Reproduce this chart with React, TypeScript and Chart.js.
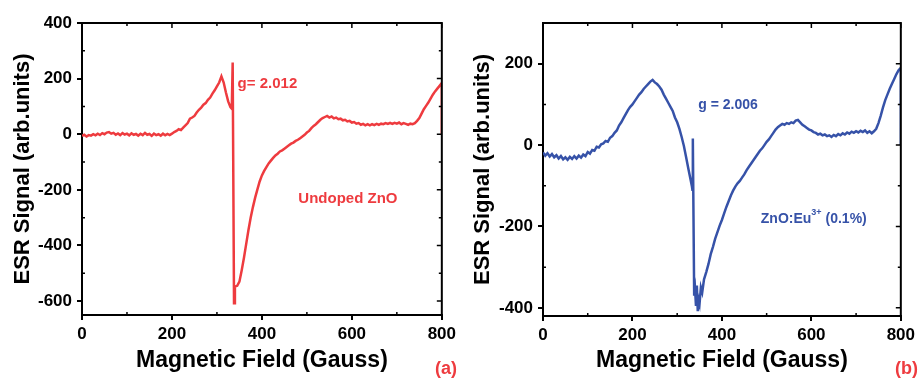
import React, { useEffect, useRef } from 'react';
import { Chart, registerables } from 'chart.js';

Chart.register(...registerables);

// ---------- data (Magnetic field in Gauss, ESR signal in arb. units) ----------
const fieldA = [
  0, 5, 10, 15, 20, 25, 30, 35, 40, 45,
  50, 55, 60, 65, 70, 75, 80, 85, 90, 95,
  100, 105, 110, 115, 120, 125, 130, 135, 140, 145,
  150, 155, 160, 165, 170, 175, 180, 185, 190, 195,
  200, 205, 210, 215, 220, 225, 230, 235, 240, 245,
  250, 255, 260, 265, 270, 275, 280, 285, 290, 295,
  300, 305, 310, 315, 320, 325, 330, 333, 335, 338,
  340, 345, 350, 355, 360, 365, 370, 375, 380, 385,
  390, 395, 400, 405, 410, 415, 420, 425, 430, 435,
  440, 445, 450, 455, 460, 465, 470, 475, 480, 485,
  490, 495, 500, 505, 510, 515, 520, 525, 530, 535,
  540, 545, 550, 555, 560, 565, 570, 575, 580, 585,
  590, 595, 600, 605, 610, 615, 620, 625, 630, 635,
  640, 645, 650, 655, 660, 665, 670, 675, 680, 685,
  690, 695, 700, 705, 710, 715, 720, 725, 730, 735,
  740, 745, 750, 755, 760, 765, 770, 775, 780, 785,
  790, 795, 800, 800,
];
const signalA = [
  -6, -2, -8, -3, -5, 0, -4, 2, -3, 4,
  0, 6, 8, 2, 5, -2, 3, -3, 4, -1,
  2, -4, 3, -2, 1, -5, 2, -3, 5, -2,
  1, -6, 2, -3, 0, -5, 2, -4, 1, -3,
  2, 8, 12, 18, 15, 24, 32, 40, 56, 60,
  66, 78, 88, 96, 106, 112, 124, 132, 146, 158,
  172, 186, 208, 186, 150, 118, 98, 92, 258, -608,
  -548, -545, -530, -490, -445, -395, -345, -300, -262, -228,
  -198, -170, -148, -132, -118, -105, -95, -85, -76, -70,
  -62, -58, -52, -46, -40, -34, -30, -24, -20, -14,
  -8, -2, 6, 12, 22, 30, 36, 44, 52, 58,
  62, 66, 60, 64, 57, 60, 54, 56, 50, 52,
  46, 48, 42, 44, 38, 40, 34, 37, 32, 36,
  32, 36, 33, 37, 34, 38, 36, 40, 37, 41,
  37, 41, 38, 42, 36, 40, 37, 34, 38, 36,
  40, 48, 58, 74, 90, 102, 114, 128, 142, 154,
  164, 174, 184, 0,
];

const fieldB = [
  0, 5, 10, 15, 20, 25, 30, 35, 40, 45,
  50, 55, 60, 65, 70, 75, 80, 85, 90, 95,
  100, 105, 110, 115, 120, 125, 130, 135, 140, 145,
  150, 155, 160, 165, 170, 175, 180, 185, 190, 195,
  200, 205, 210, 215, 220, 225, 230, 235, 240, 245,
  250, 255, 260, 265, 270, 275, 280, 285, 290, 295,
  300, 305, 310, 315, 320, 325, 330, 333, 334, 335,
  338, 340, 342, 344, 346, 348, 350, 353, 356, 360,
  365, 370, 375, 380, 385, 390, 395, 400, 405, 410,
  415, 420, 425, 430, 435, 440, 445, 450, 455, 460,
  465, 470, 475, 480, 485, 490, 495, 500, 505, 510,
  515, 520, 525, 530, 535, 540, 545, 550, 555, 560,
  565, 570, 575, 580, 585, 590, 595, 600, 605, 610,
  615, 620, 625, 630, 635, 640, 645, 650, 655, 660,
  665, 670, 675, 680, 685, 690, 695, 700, 705, 710,
  715, 720, 725, 730, 735, 740, 745, 750, 755, 760,
  765, 770, 775, 780, 785, 790, 795, 800, 800,
];
const signalB = [
  -18, -26, -20, -28, -22, -30, -25, -33, -27, -35,
  -30, -36, -29, -34, -27, -33, -26, -31, -23, -27,
  -17, -21, -12, -14, -4, -6, 2, 4, 10, 8,
  18, 22, 30, 36, 48, 56, 66, 76, 86, 94,
  100, 108, 116, 124, 130, 138, 144, 150, 156, 160,
  154, 150, 144, 136, 124, 114, 104, 94, 84, 68,
  56, 40, 20, -2, -30, -58, -85, -102, -110, 16,
  -370, -355, -395, -345, -408, -380, -390, -350, -362, -330,
  -312, -292, -268, -250, -230, -214, -198, -184, -168, -152,
  -138, -124, -112, -102, -94, -88, -80, -72, -62, -54,
  -46, -38, -30, -22, -14, -8, 0, 8, 14, 22,
  30, 38, 44, 48, 52, 50, 54, 52, 56, 54,
  60, 62, 56, 50, 46, 42, 38, 36, 32, 30,
  26, 28, 24, 26, 22, 24, 20, 25, 22, 27,
  24, 29, 26, 31, 28, 33, 30, 34, 31, 35,
  32, 36, 30, 34, 29, 34, 40, 54, 72, 92,
  110, 124, 138, 150, 162, 174, 184, 190, 0,
];

const xTicks = [0, 200, 400, 600, 800];
const xMinorTicks = [100, 300, 500, 700];
const yTicksA = [-600, -400, -200, 0, 200, 400];
const yMinorA = [-500, -300, -100, 100, 300];
const yTicksB = [-400, -200, 0, 200];
const yMinorB = [-300, -100, 100];

const xTitle = 'Magnetic Field (Gauss)';
const yTitle = 'ESR Signal (arb.units)';

const RED = '#ee3b3f';
const BLUE = '#3652a8';
const FONT = "'Liberation Sans', Arial, sans-serif";

type Part = { t: string; size: number; dy?: number };
type Note = { x: number; y: number; parts: Part[] };

const notesA: Note[] = [
  { x: 346, y: 182, parts: [{ t: 'g= 2.012', size: 15 }] },
  { x: 481, y: -231, parts: [{ t: 'Undoped ZnO', size: 15 }] },
];
const notesB: Note[] = [
  { x: 347, y: 97, parts: [{ t: 'g = 2.006', size: 14 }] },
  {
    x: 487,
    y: -181,
    parts: [
      { t: 'ZnO:Eu', size: 14 },
      { t: '3+', size: 9, dy: -6 },
      { t: ' (0.1%)', size: 14 },
    ],
  },
];

const framePlugin = {
  id: 'frame',
  afterDraw(chart: any, _args: any, opts: any) {
    const { ctx, chartArea: a } = chart;
    const xs = chart.scales.x;
    const ys = chart.scales.y;
    ctx.save();
    ctx.strokeStyle = '#000';
    ctx.lineWidth = 2;
    ctx.beginPath();
    ctx.moveTo(a.left - 1, a.top);
    ctx.lineTo(a.right, a.top);
    ctx.lineTo(a.right, a.bottom + 1);
    ctx.stroke();

    ctx.lineWidth = 1.5;
    ctx.beginPath();
    for (const v of xTicks) {
      const px = xs.getPixelForValue(v);
      ctx.moveTo(px, a.top);
      ctx.lineTo(px, a.top + 5);
    }
    for (const v of xMinorTicks) {
      const px = xs.getPixelForValue(v);
      ctx.moveTo(px, a.top);
      ctx.lineTo(px, a.top + 3);
      ctx.moveTo(px, a.bottom);
      ctx.lineTo(px, a.bottom - 3);
    }
    for (const v of opts.yTicks) {
      const py = ys.getPixelForValue(v);
      ctx.moveTo(a.right, py);
      ctx.lineTo(a.right - 5, py);
    }
    for (const v of opts.yMinor) {
      const py = ys.getPixelForValue(v);
      ctx.moveTo(a.right, py);
      ctx.lineTo(a.right - 3, py);
      ctx.moveTo(a.left, py);
      ctx.lineTo(a.left + 3, py);
    }
    ctx.stroke();

    ctx.fillStyle = opts.color;
    ctx.textBaseline = 'middle';
    ctx.textAlign = 'left';
    for (const n of opts.notes as Note[]) {
      let px = xs.getPixelForValue(n.x);
      const py = ys.getPixelForValue(n.y);
      for (const p of n.parts) {
        ctx.font = `bold ${p.size}px ${FONT}`;
        ctx.fillText(p.t, px, py + (p.dy || 0));
        px += ctx.measureText(p.t).width;
      }
    }
    ctx.fillStyle = RED;
    ctx.font = `bold 18px ${FONT}`;
    ctx.fillText(opts.tag, 435, 369);
    ctx.restore();
  },
};

type PanelProps = {
  field: number[];
  signal: number[];
  color: string;
  yMin: number;
  yMax: number;
  yTicks: number[];
  yMinor: number[];
  notes: Note[];
  tag: string;
  width: number;
  padRight: number;
  xHeight: number;
  yWidth: number;
};

function Panel(props: PanelProps) {
  const ref = useRef<HTMLCanvasElement>(null);
  useEffect(() => {
    const p = props;
    const points = p.field.map((x, i) => ({ x, y: p.signal[i] }));
    const chart = new Chart(ref.current as HTMLCanvasElement, {
      type: 'scatter',
      data: {
        datasets: [
          {
            data: points,
            showLine: true,
            borderColor: p.color,
            backgroundColor: p.color,
            borderWidth: 2.5,
            pointRadius: 0,
            tension: 0,
          },
        ],
      },
      options: {
        animation: false,
        responsive: false,
        devicePixelRatio: 1,
        layout: { padding: { top: 23, right: p.padRight, bottom: 0, left: 0 } },
        plugins: {
          legend: { display: false },
          tooltip: { enabled: false },
          frame: { yTicks: p.yTicks, yMinor: p.yMinor, notes: p.notes, color: p.color, tag: p.tag },
        } as any,
        scales: {
          x: {
            type: 'linear',
            min: 0,
            max: 800,
            afterBuildTicks: (s: any) => {
              s.ticks = xTicks.map((v) => ({ value: v }));
            },
            afterFit: (s: any) => {
              s.height = p.xHeight;
            },
            ticks: {
              color: '#000',
              font: { family: FONT, size: 17, weight: 'bold' },
              padding: 4,
              maxRotation: 0,
            },
            grid: {
              drawOnChartArea: false,
              drawTicks: true,
              tickLength: 5,
              color: '#000',
              lineWidth: 2,
            },
            border: { color: '#000', width: 2 },
            title: {
              display: true,
              text: xTitle,
              color: '#000',
              font: { family: FONT, size: 23, weight: 'bold' },
              padding: { top: 0, bottom: 5 },
            },
          },
          y: {
            type: 'linear',
            min: p.yMin,
            max: p.yMax,
            afterBuildTicks: (s: any) => {
              s.ticks = p.yTicks.map((v) => ({ value: v }));
            },
            afterFit: (s: any) => {
              s.width = p.yWidth;
            },
            ticks: {
              color: '#000',
              font: { family: FONT, size: 17, weight: 'bold' },
              padding: 5,
            },
            grid: {
              drawOnChartArea: false,
              drawTicks: true,
              tickLength: 5,
              color: '#000',
              lineWidth: 2,
            },
            border: { color: '#000', width: 2 },
            title: {
              display: true,
              text: yTitle,
              color: '#000',
              font: { family: FONT, size: 22, weight: 'bold' },
              padding: { top: 10, bottom: 0 },
            },
          },
        },
      } as any,
      plugins: [framePlugin as any],
    });
    return () => chart.destroy();
  }, []);
  return (
    <canvas
      ref={ref}
      width={props.width}
      height={379}
      style={{ display: 'block', width: props.width, height: 379 }}
    />
  );
}

export default function App() {
  return (
    <div
      style={{
        position: 'absolute',
        left: 0,
        top: 0,
        width: 919,
        height: 379,
        display: 'flex',
        background: '#fff',
      }}
    >
      <Panel
        field={fieldA}
        signal={signalA}
        color={RED}
        yMin={-650}
        yMax={400}
        yTicks={yTicksA}
        yMinor={yMinorA}
        notes={notesA}
        tag="(a)"
        width={460}
        padRight={17}
        xHeight={64}
        yWidth={82}
      />
      <Panel
        field={fieldB}
        signal={signalB}
        color={BLUE}
        yMin={-420}
        yMax={300}
        yTicks={yTicksB}
        yMinor={yMinorB}
        notes={notesB}
        tag="(b)"
        width={459}
        padRight={15}
        xHeight={63}
        yWidth={83}
      />
    </div>
  );
}
